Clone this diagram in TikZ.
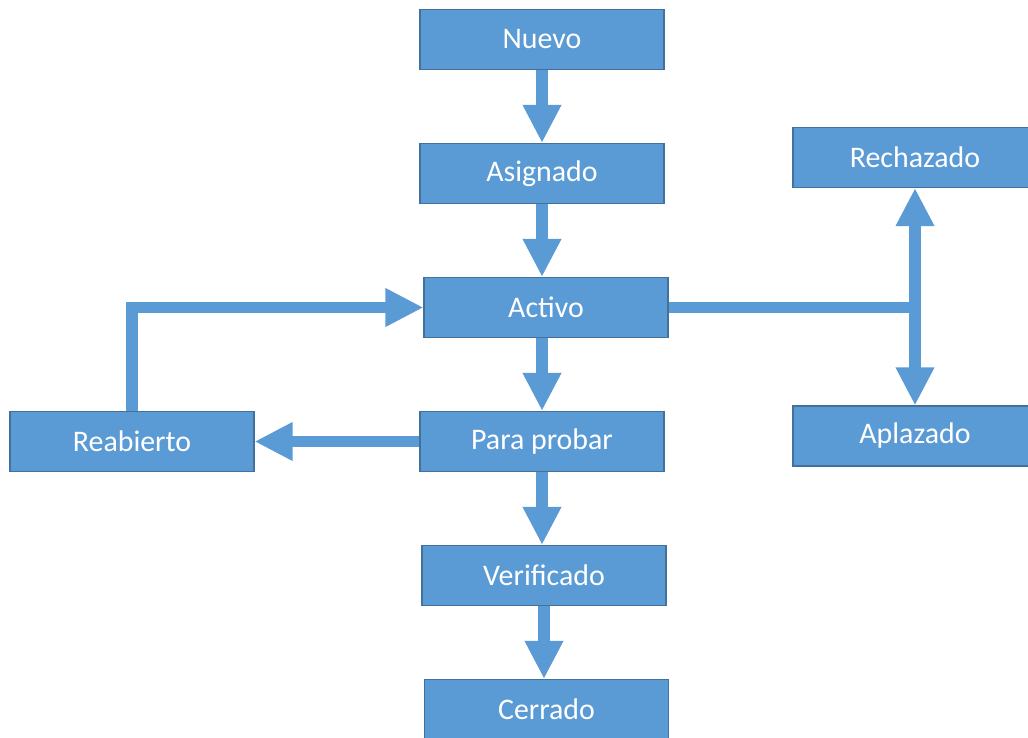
\documentclass[tikz,border=0pt]{standalone}
\usepackage{fontspec}
\setmainfont{Carlito}
\usetikzlibrary{arrows.meta}
\definecolor{boxblue}{HTML}{5B9BD5}
\definecolor{boxedge}{HTML}{41719C}
\tikzset{%
  >={Triangle[width=7.2mm,length=7.6mm]},
  % Specifications for style of nodes:
  estado/.style = {rectangle, draw=boxedge, fill=boxblue, line width=0.6pt,
                   minimum width=4.88cm, minimum height=1.2cm,
                   text=white, font=\fontsize{17}{20}\selectfont},
  flecha/.style = {draw=boxblue, line width=2.3mm},
}

\begin{document}
\begin{tikzpicture}[node distance=2.68cm]
  \useasboundingbox (0,0) rectangle (20.56,-14.76);
  % Specification of nodes (position, etc.)
  \node (nuevo) [estado] at (10.84,-0.79) {Nuevo};
  \node (asignado) [estado, below of=nuevo] {Asignado};
  \node (activo) [estado, below of=asignado, xshift=0.08cm] {Activo};
  \node (paraProbar) [estado, below of=activo, xshift=-0.08cm] {Para probar};
  \node (verificado) [estado, below of=paraProbar, xshift=0.04cm] {Verificado};
  \node (cerrado) [estado, below of=verificado, xshift=0.05cm] {Cerrado};
  \node (reabierto) [estado, node distance=8.2cm, left of=paraProbar] {Reabierto};
  \node (rechazado) [estado] at (18.3,-3.15) {Rechazado};
  \node (aplazado) [estado] at (18.3,-8.72) {Aplazado};
  \coordinate (cruce) at (rechazado.south |- activo.east);
  % Specification of lines between nodes specified above
  \draw[flecha,->] (nuevo) -- (asignado);
  \draw[flecha,->] (asignado) -- (asignado |- activo.north);
  \draw[flecha,->] (activo.south -| paraProbar) -- (paraProbar);
  \draw[flecha,->] (paraProbar) -- (paraProbar |- verificado.north);
  \draw[flecha,->] (verificado) -- (verificado |- cerrado.north);
  \draw[flecha,->] (paraProbar) -- (reabierto);
  \draw[flecha,->] (reabierto) |- (activo);
  \draw[flecha] (activo) -- (cruce);
  \draw[flecha,->] (cruce) -- (rechazado);
  \draw[flecha,->] (cruce) -- (aplazado);
\end{tikzpicture}
\end{document}
